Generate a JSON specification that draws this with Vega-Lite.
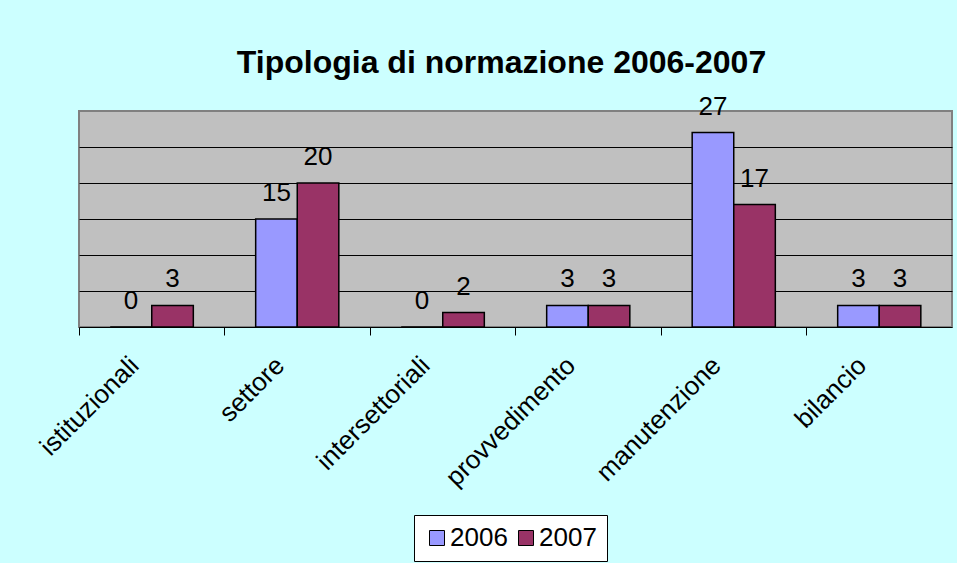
{
  "$schema": "https://vega.github.io/schema/vega-lite/v6.json",
  "autosize": {"type": "none"},
  "padding": {"left": 79, "top": 111, "right": 5, "bottom": 236},
  "width": 873,
  "height": 216,
  "background": "#CCFFFF",
  "title": {
    "text": "Tipologia di normazione 2006-2007",
    "font": "Liberation Sans",
    "fontSize": 32,
    "fontWeight": "bold",
    "color": "#000000",
    "anchor": "middle",
    "dx": -14,
    "offset": 14
  },
  "data": {
    "values": [
      {"categoria": "istituzionali", "anno": "2006", "valore": 0},
      {"categoria": "istituzionali", "anno": "2007", "valore": 3},
      {"categoria": "settore", "anno": "2006", "valore": 15},
      {"categoria": "settore", "anno": "2007", "valore": 20},
      {"categoria": "intersettoriali", "anno": "2006", "valore": 0},
      {"categoria": "intersettoriali", "anno": "2007", "valore": 2},
      {"categoria": "provvedimento", "anno": "2006", "valore": 3},
      {"categoria": "provvedimento", "anno": "2007", "valore": 3},
      {"categoria": "manutenzione", "anno": "2006", "valore": 27},
      {"categoria": "manutenzione", "anno": "2007", "valore": 17},
      {"categoria": "bilancio", "anno": "2006", "valore": 3},
      {"categoria": "bilancio", "anno": "2007", "valore": 3}
    ]
  },
  "encoding": {
    "x": {
      "field": "categoria",
      "type": "nominal",
      "sort": null,
      "scale": {"paddingInner": 0, "paddingOuter": 0},
      "axis": {
        "title": null,
        "bandPosition": 0,
        "labelAngle": -45,
        "labelAlign": "right",
        "labelBaseline": "middle",
        "labelFont": "Liberation Sans",
        "labelFontSize": 26,
        "labelColor": "#000000",
        "labelPadding": 26,
        "labelOffset": -17,
        "tickSize": 8,
        "tickColor": "#000000",
        "tickWidth": 1,
        "domainColor": "#000000",
        "domainWidth": 1,
        "grid": false
      }
    },
    "xOffset": {
      "field": "anno",
      "type": "nominal",
      "scale": {"paddingInner": 0, "paddingOuter": 0.75}
    },
    "y": {
      "field": "valore",
      "type": "quantitative",
      "scale": {"domain": [0, 30], "nice": false},
      "axis": {
        "title": null,
        "labels": false,
        "ticks": false,
        "domain": false,
        "grid": true,
        "gridColor": "#000000",
        "gridWidth": 1,
        "gridOpacity": 1,
        "values": [5, 10, 15, 20, 25]
      }
    }
  },
  "layer": [
    {
      "mark": {"type": "bar", "stroke": "#000000", "strokeWidth": 1.5},
      "encoding": {
        "color": {
          "field": "anno",
          "type": "nominal",
          "scale": {"domain": ["2006", "2007"], "range": ["#9999FF", "#993366"]},
          "legend": {
            "orient": "none",
            "legendX": 335,
            "legendY": 404,
            "direction": "horizontal",
            "title": null,
            "strokeColor": "#000000",
            "fillColor": "#FFFFFF",
            "padding": 10,
            "labelFont": "Liberation Sans",
            "labelFontSize": 26,
            "labelColor": "#000000",
            "symbolType": "square",
            "symbolSize": 225,
            "symbolStrokeColor": "#000000",
            "symbolStrokeWidth": 1,
            "labelOffset": 0,
            "columnPadding": 5
          }
        }
      }
    },
    {
      "mark": {
        "type": "text",
        "font": "Liberation Sans",
        "fontSize": 26,
        "color": "#000000",
        "baseline": "alphabetic",
        "dy": -18
      },
      "encoding": {
        "text": {"field": "valore", "type": "quantitative"}
      }
    }
  ],
  "config": {
    "view": {"fill": "#C0C0C0", "stroke": "#808080", "strokeWidth": 2}
  }
}
